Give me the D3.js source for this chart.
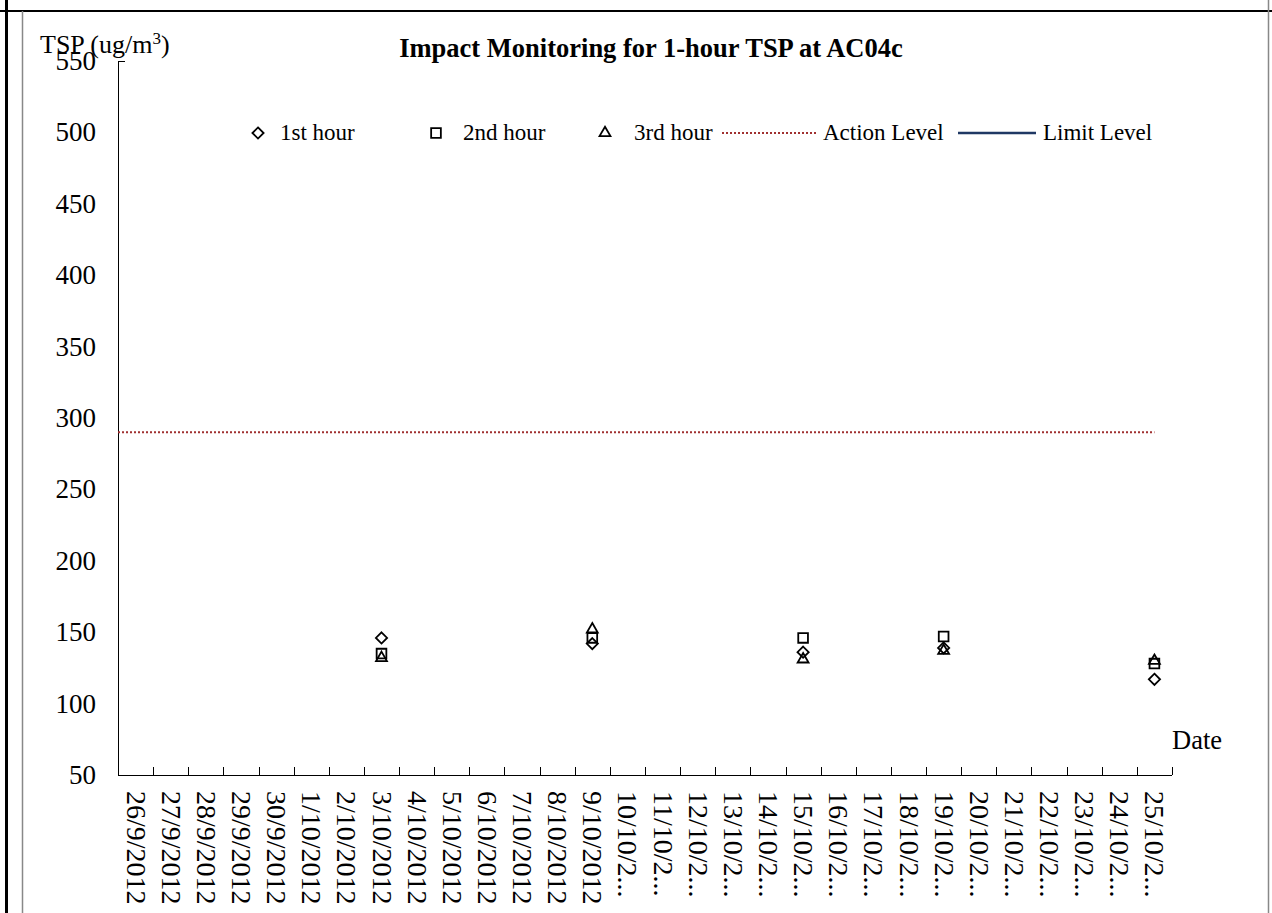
<!DOCTYPE html>
<html><head><meta charset="utf-8">
<script src="https://cdn.jsdelivr.net/npm/d3@7"></script>
<style>body{margin:0;background:#fff}svg{display:block}text{font-family:"Liberation Serif","Times New Roman",serif;fill:#000}</style>
</head><body><svg id="c" width="1272" height="913"></svg>
<script>
const dates = ["26/9/2012","27/9/2012","28/9/2012","29/9/2012","30/9/2012","1/10/2012","2/10/2012","3/10/2012","4/10/2012","5/10/2012","6/10/2012","7/10/2012","8/10/2012","9/10/2012","10/10/2012","11/10/2012","12/10/2012","13/10/2012","14/10/2012","15/10/2012","16/10/2012","17/10/2012","18/10/2012","19/10/2012","20/10/2012","21/10/2012","22/10/2012","23/10/2012","24/10/2012","25/10/2012"];
const sampleDates = ["3/10/2012","9/10/2012","15/10/2012","19/10/2012","25/10/2012"];
const hour1 = [146, 142, 136, 139, 117];
const hour2 = [135, 146, 146, 147, 128];
const hour3 = [132, 152, 131, 137, 130];
const actionLevel = 290;
const limitLevel = [];
const yTicks = [50,100,150,200,250,300,350,400,450,500,550];

const svg = d3.select("#c");
const L = 118, R = 1172, T = 61, B = 775;
const x = d3.scaleBand().domain(dates).range([L, R]);
const y = d3.scaleLinear().domain([50, 550]).range([B, T]);

// frame
svg.append("line").attr("x1",0).attr("x2",1272).attr("y1",11).attr("y2",11).attr("stroke","#000").attr("stroke-width",2);
svg.append("line").attr("x1",6.5).attr("x2",6.5).attr("y1",0).attr("y2",913).attr("stroke","#000").attr("stroke-width",3);
svg.append("line").attr("x1",22.5).attr("x2",22.5).attr("y1",11).attr("y2",913).attr("stroke","#888").attr("stroke-width",1.5);
svg.append("line").attr("x1",1268.5).attr("x2",1268.5).attr("y1",0).attr("y2",913).attr("stroke","#888").attr("stroke-width",1.5);

// y axis
svg.append("line").attr("x1",L+0.5).attr("x2",L+0.5).attr("y1",T).attr("y2",B).attr("stroke","#000");
svg.append("line").attr("x1",L).attr("x2",L+7).attr("y1",T+0.5).attr("y2",T+0.5).attr("stroke","#000");
svg.selectAll(".yt").data(yTicks).enter().append("text")
  .attr("x",96).attr("y",d=>y(d)+9).attr("text-anchor","end").attr("font-size",27).text(d=>d);

// x axis
svg.append("line").attr("x1",L).attr("x2",R).attr("y1",B+0.5).attr("y2",B+0.5).attr("stroke","#000");
const bounds = dates.map(d=>x(d)).concat([R]);
svg.selectAll(".xt").data(bounds.slice(1)).enter().append("line")
  .attr("x1",d=>Math.round(d)+0.5).attr("x2",d=>Math.round(d)+0.5).attr("y1",B).attr("y2",B-8).attr("stroke","#000");
function trunc(s){ return s.length>9 ? s.slice(0,7)+"..." : s; }
svg.selectAll(".xl").data(dates).enter().append("text")
  .attr("transform",d=>`translate(${x(d)+x.bandwidth()/2-9},791) rotate(90)`)
  .attr("font-size",28).attr("text-anchor","start").text(d=>trunc(d));

// titles
svg.append("text").attr("x",651).attr("y",57).attr("text-anchor","middle").attr("font-size",26.5).attr("font-weight","bold")
  .text("Impact Monitoring for 1-hour TSP at AC04c");
const yl = svg.append("text").attr("x",40).attr("y",53).attr("font-size",26);
yl.append("tspan").text("TSP (ug/m");
yl.append("tspan").attr("font-size",17).attr("dy",-9).text("3");
yl.append("tspan").attr("dy",9).text(")");
svg.append("text").attr("x",1172).attr("y",749).attr("font-size",26.5).text("Date");

// action level
svg.append("line").attr("x1",L).attr("x2",x(dates[dates.length-1])+x.bandwidth()/2)
  .attr("y1",y(actionLevel)).attr("y2",y(actionLevel))
  .attr("stroke","#a03030").attr("stroke-width",2).attr("stroke-dasharray","2,2");

// markers
const cx = d => x(d)+x.bandwidth()/2;
const sym = {
  diamond: d3.symbol().type(d3.symbolDiamond2).size(80),
  square: d3.symbol().type(d3.symbolSquare2).size(120),
  triangle: d3.symbol().type(d3.symbolTriangle2).size(85)
};
function drawSeries(vals, s){
  svg.selectAll(null).data(vals).enter().append("path")
    .attr("d", sym[s]).attr("transform",(v,i)=>`translate(${cx(sampleDates[i])},${y(v)})`)
    .attr("fill","none").attr("stroke","#000").attr("stroke-width",1.8);
}
drawSeries(hour1,"diamond");
drawSeries(hour2,"square");
drawSeries(hour3,"triangle");

// legend
const ly = 133;
const lm = (s,cxp)=>svg.append("path").attr("d",sym[s]).attr("transform",`translate(${cxp},${ly})`).attr("fill","none").attr("stroke","#000").attr("stroke-width",1.8);
const lt = (t,xp)=>svg.append("text").attr("x",xp).attr("y",ly+7).attr("font-size",23).text(t);
lm("diamond",258); lt("1st hour",280);
lm("square",436); lt("2nd hour",463);
lm("triangle",605); lt("3rd hour",634);
svg.append("line").attr("x1",722).attr("x2",816).attr("y1",ly).attr("y2",ly).attr("stroke","#a03030").attr("stroke-width",2).attr("stroke-dasharray","2,2");
lt("Action Level",823);
svg.append("line").attr("x1",958).attr("x2",1036).attr("y1",ly).attr("y2",ly).attr("stroke","#1f3864").attr("stroke-width",2.5);
lt("Limit Level",1043);
</script></body></html>
